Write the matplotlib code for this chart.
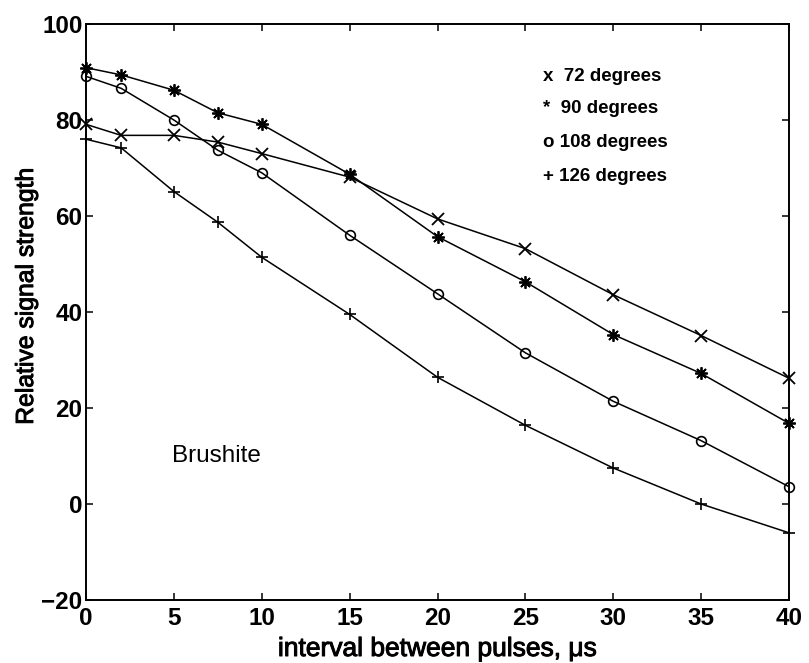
import matplotlib
matplotlib.use("Agg")
import matplotlib.pyplot as plt
import matplotlib.patheffects as pe

plt.rcParams['font.family'] = ['Liberation Sans', 'DejaVu Sans']

# pulse interval (us) and relative signal strength per tip angle
interval = [0, 2, 5, 7.5, 10, 15, 20, 25, 30, 35, 40]
deg72 = [79.1, 76.8, 76.8, 75.4, 73.0, 68.1, 59.4, 53.2, 43.6, 35.1, 26.2]
deg90 = [90.9, 89.4, 86.2, 81.5, 79.1, 68.7, 55.7, 46.3, 35.3, 27.2, 16.8]
deg108 = [89.1, 86.6, 80.0, 73.7, 69.0, 56.0, 43.8, 31.5, 21.4, 13.2, 3.6]
deg126 = [76.0, 74.2, 65.1, 58.7, 51.4, 39.5, 26.4, 16.4, 7.5, 0.0, -6.0]

key_lines = ["x  72 degrees", "*  90 degrees", "o 108 degrees", "+ 126 degrees"]
key_y = [89.0, 82.4, 75.3, 68.3]

fig = plt.figure(figsize=(8.09, 6.63), dpi=100)
ax = fig.add_axes([0.1063, 0.095, 0.869, 0.8688])

lw = 1.1
ax.plot(interval, deg72, color='black', lw=lw, marker='x', ms=8, mew=1.3, clip_on=False)
# matlab style asterisk: 8 spokes
ax.plot(interval, deg90, color='black', lw=lw, marker=(8, 2, 0), ms=9, mew=1.3, clip_on=False)
ax.plot(interval, deg108, color='black', lw=lw, marker='o', ms=7, mew=1.2, mfc='none', clip_on=False)
ax.plot(interval, deg126, color='black', lw=lw, marker='+', ms=9, mew=1.2, clip_on=False)

for txt, yy in zip(key_lines, key_y):
    ax.text(26.0, yy, txt, fontsize=13.5, fontweight='bold', va='center', ha='left')

ax.text(4.9, 8.75, "Brushite", fontsize=17.5, va='baseline', ha='left')

ax.set_xlim(0, 40)
ax.set_ylim(-20, 100)
ax.set_xticks(range(0, 41, 5))
ax.set_yticks(range(-20, 101, 20))
ax.tick_params(direction='in', length=5, width=1.1, top=True, right=True, labelsize=17.5)
ax.tick_params(axis='x', pad=5)
ax.tick_params(axis='y', pad=2.5)
for lab in ax.get_xticklabels() + ax.get_yticklabels():
    lab.set_fontweight('bold')
for sp in ax.spines.values():
    sp.set_linewidth(1.4)

# regular face with a thin outline, a bit heavier than plain
heavy = [pe.withStroke(linewidth=0.7, foreground='black')]
ax.set_xlabel("interval between pulses, \u03bcs", fontsize=19, va='baseline', path_effects=heavy)
ax.set_ylabel("Relative signal strength", fontsize=17.8, path_effects=heavy)
ax.xaxis.set_label_coords(0.5, -0.0972)
ax.yaxis.set_label_coords(-0.0683, 0.527)

fig.savefig("out.png", dpi=100)
